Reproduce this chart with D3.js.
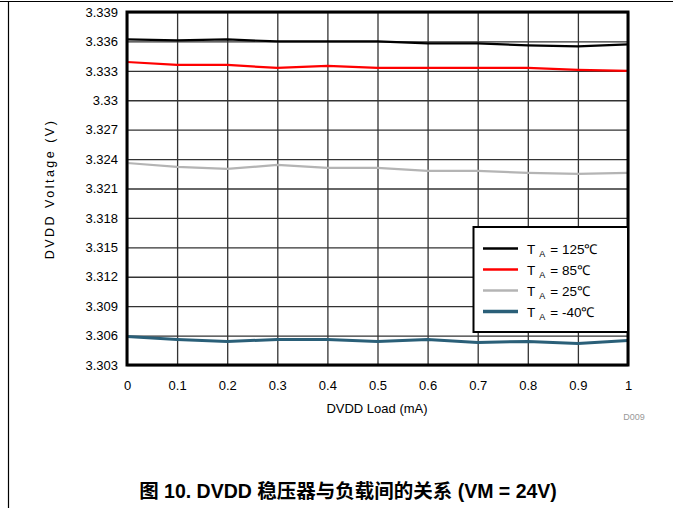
<!DOCTYPE html>
<html>
<head>
<meta charset="utf-8">
<script src="https://cdn.jsdelivr.net/npm/d3@7/dist/d3.min.js"></script>
<style>
  html, body { margin: 0; padding: 0; background: #fff; }
  svg { display: block; font-family: Arial, "Liberation Sans", sans-serif; }
</style>
</head>
<body>
<svg id="chart" width="673" height="508"></svg>
<script>
// DVDD load current (mA)
const loads = [0, 0.1, 0.2, 0.3, 0.4, 0.5, 0.6, 0.7, 0.8, 0.9, 1.0];

// DVDD output voltage (V) at each ambient temperature
const v125 = [3.3362, 3.3361, 3.3362, 3.3360, 3.3360, 3.3360, 3.3358, 3.3358, 3.3356, 3.3355, 3.3357];
const v85  = [3.3339, 3.3336, 3.3336, 3.3333, 3.3335, 3.3333, 3.3333, 3.3333, 3.3333, 3.3331, 3.3330];
const v25  = [3.3236, 3.3232, 3.3230, 3.3234, 3.3231, 3.3231, 3.3228, 3.3228, 3.3226, 3.3225, 3.3226];
const vm40 = [3.3059, 3.3056, 3.3054, 3.3056, 3.3056, 3.3054, 3.3056, 3.3053, 3.3054, 3.3052, 3.3055];

const seriesNames = ["125℃", "85℃", "25℃", "-40℃"];
const seriesColors = ["#000000", "#ff0000", "#b4b4b4", "#2a5f78"];
const seriesWidths = [2.2, 2.2, 2.2, 3];

const xTicks = [0, 0.1, 0.2, 0.3, 0.4, 0.5, 0.6, 0.7, 0.8, 0.9, 1];
const xTickLabels = ["0", "0.1", "0.2", "0.3", "0.4", "0.5", "0.6", "0.7", "0.8", "0.9", "1"];
const yTicks = [3.303, 3.306, 3.309, 3.312, 3.315, 3.318, 3.321, 3.324, 3.327, 3.33, 3.333, 3.336, 3.339];
const yTickLabels = ["3.303", "3.306", "3.309", "3.312", "3.315", "3.318", "3.321", "3.324", "3.327", "3.33", "3.333", "3.336", "3.339"];

const svg = d3.select("#chart");
const plot = { left: 127, top: 12, right: 628, bottom: 365 };

const x = d3.scaleLinear().domain([0, 1]).range([plot.left, plot.right]);
const y = d3.scaleLinear().domain([3.303, 3.339]).range([plot.bottom, plot.top]);

// page frame: top rule and left rule
svg.append("line").attr("x1", 0).attr("x2", 673).attr("y1", 1.5).attr("y2", 1.5)
  .attr("stroke", "#000").attr("stroke-width", 1.2);
svg.append("line").attr("x1", 8.5).attr("x2", 8.5).attr("y1", 1).attr("y2", 508)
  .attr("stroke", "#000").attr("stroke-width", 1.2);

// grid lines via axes
const gridY = d3.axisLeft(y).tickValues(yTicks).tickSize(-(plot.right - plot.left)).tickFormat("");
svg.append("g").attr("transform", `translate(${plot.left},0)`).call(gridY)
  .call(g => g.select(".domain").remove())
  .call(g => g.selectAll("line").attr("stroke", "#333").attr("stroke-width", 1.3));

const gridX = d3.axisBottom(x).tickValues(xTicks).tickSize(-(plot.bottom - plot.top)).tickFormat("");
svg.append("g").attr("transform", `translate(0,${plot.bottom})`).call(gridX)
  .call(g => g.select(".domain").remove())
  .call(g => g.selectAll("line").attr("stroke", "#333").attr("stroke-width", 1.3));

// tick labels
const yAxis = d3.axisLeft(y).tickValues(yTicks).tickSize(0).tickPadding(9)
  .tickFormat((d, i) => yTickLabels[i]);
svg.append("g").attr("transform", `translate(${plot.left},0)`).call(yAxis)
  .call(g => g.select(".domain").remove())
  .call(g => g.selectAll("text").attr("font-size", 13).attr("fill", "#000")
    .attr("font-family", "Arial, 'Liberation Sans', sans-serif"));

const xAxis = d3.axisBottom(x).tickValues(xTicks).tickSize(0).tickPadding(16)
  .tickFormat((d, i) => xTickLabels[i]);
svg.append("g").attr("transform", `translate(0,${plot.bottom})`).call(xAxis)
  .call(g => g.select(".domain").remove())
  .call(g => g.selectAll("text").attr("font-size", 13).attr("fill", "#000")
    .attr("font-family", "Arial, 'Liberation Sans', sans-serif"));

// data lines
const allSeries = [v125, v85, v25, vm40];
const line = d3.line().x((d, i) => x(loads[i])).y(d => y(d));
const clipId = "plotClip";
svg.append("clipPath").attr("id", clipId).append("rect")
  .attr("x", plot.left).attr("y", plot.top)
  .attr("width", plot.right - plot.left).attr("height", plot.bottom - plot.top);
allSeries.forEach((vals, k) => {
  svg.append("path").datum(vals)
    .attr("clip-path", `url(#${clipId})`)
    .attr("fill", "none")
    .attr("stroke", seriesColors[k])
    .attr("stroke-width", seriesWidths[k])
    .attr("stroke-linejoin", "round")
    .attr("d", line);
});

// plot border
svg.append("rect").attr("x", plot.left).attr("y", plot.top)
  .attr("width", plot.right - plot.left).attr("height", plot.bottom - plot.top)
  .attr("fill", "none").attr("stroke", "#000").attr("stroke-width", 3);

// legend
const lg = { x: 473.5, y: 227, w: 154.5, h: 105 };
svg.append("rect").attr("x", lg.x).attr("y", lg.y).attr("width", lg.w).attr("height", lg.h)
  .attr("fill", "#fff").attr("stroke", "#000").attr("stroke-width", 2);
seriesNames.forEach((name, k) => {
  const ry = 248.5 + k * 21;
  svg.append("line").attr("x1", 483).attr("x2", 518).attr("y1", ry).attr("y2", ry)
    .attr("stroke", seriesColors[k]).attr("stroke-width", seriesWidths[k] + 0.5);
  const t = svg.append("text").attr("x", 527).attr("y", ry + 5)
    .attr("font-size", 13.5).attr("fill", "#000");
  t.append("tspan").text("T");
  t.append("tspan").attr("font-size", 9).attr("dx", 4).attr("dy", 3).text("A");
  t.append("tspan").attr("dy", -3).attr("dx", 5).text("= " + name);
});

// axis titles
svg.append("text").attr("x", 377).attr("y", 413).attr("text-anchor", "middle")
  .attr("font-size", 13).text("DVDD Load (mA)");
svg.append("text")
  .attr("transform", "translate(54,189) rotate(-90)")
  .attr("text-anchor", "middle").attr("font-size", 12.5)
  .attr("letter-spacing", 2.5).text("DVDD Voltage (V)");

// figure id
svg.append("text").attr("x", 634).attr("y", 420).attr("text-anchor", "middle")
  .attr("font-size", 9).attr("fill", "#999").text("D009");

// caption
svg.append("text").attr("x", 348).attr("y", 498).attr("text-anchor", "middle")
  .attr("font-size", 19.5).attr("font-weight", "bold")
  .attr("font-family", "Arial, 'Liberation Sans', 'Noto Sans CJK SC', sans-serif")
  .text("图 10. DVDD 稳压器与负载间的关系 (VM = 24V)");
</script>
</body>
</html>
